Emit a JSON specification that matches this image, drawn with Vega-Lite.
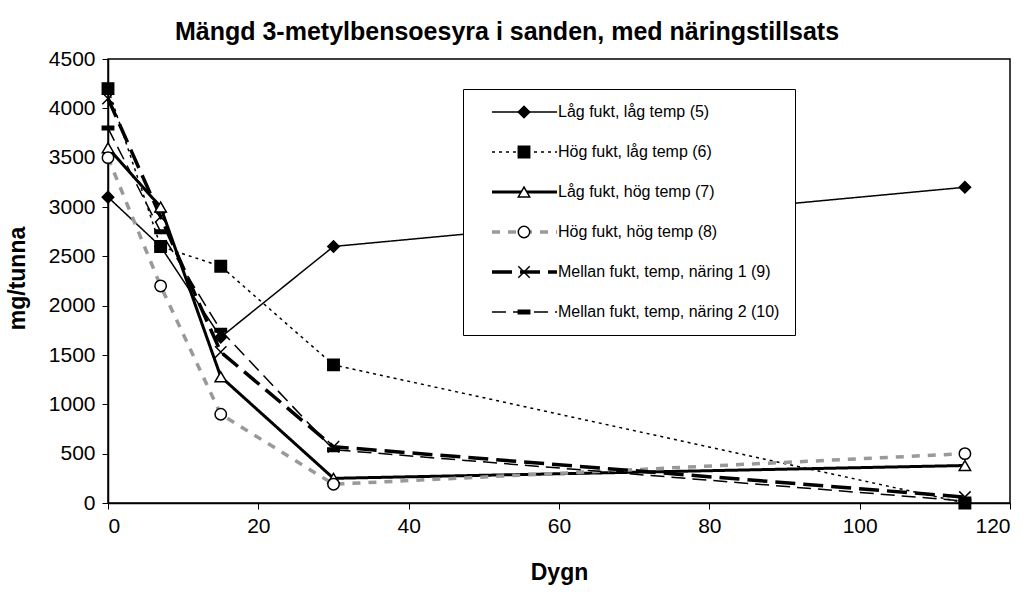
{
  "$schema": "https://vega.github.io/schema/vega-lite/v6.json",
  "autosize": {"type": "none"},
  "padding": {"left": 108, "top": 59, "right": 24, "bottom": 96},
  "width": 902,
  "height": 444,
  "background": "white",
  "title": {
    "text": "Mängd 3-metylbensoesyra i sanden, med näringstillsats",
    "font": "Liberation Sans",
    "fontSize": 25,
    "fontWeight": "bold",
    "color": "black",
    "anchor": "middle",
    "offset": 3,
    "dx": -52
  },
  "config": {
    "view": {"stroke": "black", "strokeWidth": 1.5},
    "axis": {
      "domainColor": "black",
      "domainWidth": 1.5,
      "tickColor": "black",
      "tickWidth": 1,
      "tickSize": 6,
      "labelFont": "Liberation Sans",
      "labelFontSize": 21,
      "labelColor": "black",
      "titleFont": "Liberation Sans",
      "titleFontSize": 23,
      "titleFontWeight": "bold",
      "titleColor": "black",
      "grid": false
    },
    "legend": {
      "labelFont": "Liberation Sans",
      "labelFontSize": 16,
      "labelColor": "black",
      "labelLimit": 400
    }
  },
  "data": {
    "values": [
      {"serie": "Låg fukt, låg temp (5)", "dygn": 0, "mg": 3100},
      {"serie": "Låg fukt, låg temp (5)", "dygn": 7, "mg": 2600},
      {"serie": "Låg fukt, låg temp (5)", "dygn": 15, "mg": 1680},
      {"serie": "Låg fukt, låg temp (5)", "dygn": 30, "mg": 2600},
      {"serie": "Låg fukt, låg temp (5)", "dygn": 114, "mg": 3200},
      {"serie": "Hög fukt, låg temp (6)", "dygn": 0, "mg": 4200},
      {"serie": "Hög fukt, låg temp (6)", "dygn": 7, "mg": 2600},
      {"serie": "Hög fukt, låg temp (6)", "dygn": 15, "mg": 2400},
      {"serie": "Hög fukt, låg temp (6)", "dygn": 30, "mg": 1400},
      {"serie": "Hög fukt, låg temp (6)", "dygn": 114, "mg": 0},
      {"serie": "Låg fukt, hög temp (7)", "dygn": 0, "mg": 3600},
      {"serie": "Låg fukt, hög temp (7)", "dygn": 7, "mg": 3000},
      {"serie": "Låg fukt, hög temp (7)", "dygn": 15, "mg": 1280},
      {"serie": "Låg fukt, hög temp (7)", "dygn": 30, "mg": 250},
      {"serie": "Låg fukt, hög temp (7)", "dygn": 114, "mg": 380},
      {"serie": "Hög fukt, hög temp (8)", "dygn": 0, "mg": 3500},
      {"serie": "Hög fukt, hög temp (8)", "dygn": 7, "mg": 2200},
      {"serie": "Hög fukt, hög temp (8)", "dygn": 15, "mg": 900},
      {"serie": "Hög fukt, hög temp (8)", "dygn": 30, "mg": 190},
      {"serie": "Hög fukt, hög temp (8)", "dygn": 114, "mg": 500},
      {"serie": "Mellan fukt, temp, näring 1 (9)", "dygn": 0, "mg": 4100},
      {"serie": "Mellan fukt, temp, näring 1 (9)", "dygn": 7, "mg": 2900},
      {"serie": "Mellan fukt, temp, näring 1 (9)", "dygn": 15, "mg": 1530},
      {"serie": "Mellan fukt, temp, näring 1 (9)", "dygn": 30, "mg": 570},
      {"serie": "Mellan fukt, temp, näring 1 (9)", "dygn": 114, "mg": 60},
      {"serie": "Mellan fukt, temp, näring 2 (10)", "dygn": 0, "mg": 3800},
      {"serie": "Mellan fukt, temp, näring 2 (10)", "dygn": 7, "mg": 2750},
      {"serie": "Mellan fukt, temp, näring 2 (10)", "dygn": 15, "mg": 1750},
      {"serie": "Mellan fukt, temp, näring 2 (10)", "dygn": 30, "mg": 540},
      {"serie": "Mellan fukt, temp, näring 2 (10)", "dygn": 114, "mg": 20}
    ]
  },
  "encoding": {
    "x": {
      "field": "dygn",
      "type": "quantitative",
      "scale": {"domain": [0, 120], "nice": false},
      "axis": {"title": "Dygn", "format": "d", "values": [0, 20, 40, 60, 80, 100, 120], "labelPadding": 6, "titleY": 58, "titleBaseline": "top"}
    },
    "y": {
      "field": "mg",
      "type": "quantitative",
      "scale": {"domain": [0, 4500], "nice": false},
      "axis": {"title": "mg/tunna", "format": "d", "values": [0, 500, 1000, 1500, 2000, 2500, 3000, 3500, 4000, 4500], "labelPadding": 7, "titleX": -91, "titleY": 219, "titleAngle": -90, "titleAlign": "center", "titleBaseline": "middle"}
    }
  },
  "layer": [
    {
      "mark": {"type": "line"},
      "encoding": {
        "color": {
          "field": "serie",
          "type": "nominal",
          "scale": {
            "domain": ["Låg fukt, låg temp (5)", "Hög fukt, låg temp (6)", "Låg fukt, hög temp (7)", "Hög fukt, hög temp (8)", "Mellan fukt, temp, näring 1 (9)", "Mellan fukt, temp, näring 2 (10)"],
            "range": ["black", "black", "black", "#999999", "black", "black"]
          },
          "legend": {
            "title": null,
            "orient": "none",
            "legendX": 355,
            "legendY": 30,
            "padding": 15,
            "rowPadding": 24,
            "clipHeight": 16,
            "symbolType": "stroke",
            "symbolSize": 4225,
            "symbolOffset": 12,
            "labelOffset": -1,
            "fillColor": "white",
            "strokeColor": "black"
          }
        },
        "strokeDash": {
          "field": "serie",
          "type": "nominal",
          "scale": {
            "domain": ["Låg fukt, låg temp (5)", "Hög fukt, låg temp (6)", "Låg fukt, hög temp (7)", "Hög fukt, hög temp (8)", "Mellan fukt, temp, näring 1 (9)", "Mellan fukt, temp, näring 2 (10)"],
            "range": [[1, 0], [3, 4], [1, 0], [8, 8], [20, 8], [14, 7]]
          }
        },
        "strokeWidth": {
          "field": "serie",
          "type": "nominal",
          "scale": {
            "type": "ordinal",
            "domain": ["Låg fukt, låg temp (5)", "Hög fukt, låg temp (6)", "Låg fukt, hög temp (7)", "Hög fukt, hög temp (8)", "Mellan fukt, temp, näring 1 (9)", "Mellan fukt, temp, näring 2 (10)"],
            "range": [1.5, 1.5, 3, 3.5, 3.5, 1.5]
          }
        }
      }
    },
    {
      "mark": {"type": "point", "size": 130, "opacity": 1},
      "encoding": {
        "strokeWidth": {"value": 1.5},
        "stroke": {
          "field": "serie",
          "type": "nominal",
          "scale": {
            "domain": ["Låg fukt, låg temp (5)", "Hög fukt, låg temp (6)", "Låg fukt, hög temp (7)", "Hög fukt, hög temp (8)", "Mellan fukt, temp, näring 1 (9)", "Mellan fukt, temp, näring 2 (10)"],
            "range": ["black", "black", "black", "black", "black", "black"]
          },
          "legend": {
            "title": null,
            "orient": "none",
            "legendX": 355,
            "legendY": 30,
            "padding": 15,
            "rowPadding": 24,
            "clipHeight": 16,
            "symbolOffset": 38,
            "symbolSize": 130,
            "symbolStrokeWidth": 1.5,
            "labelExpr": "''",
            "labelOffset": 13
          }
        },
        "shape": {
          "field": "serie",
          "type": "nominal",
          "scale": {
            "domain": ["Låg fukt, låg temp (5)", "Hög fukt, låg temp (6)", "Låg fukt, hög temp (7)", "Hög fukt, hög temp (8)", "Mellan fukt, temp, näring 1 (9)", "Mellan fukt, temp, näring 2 (10)"],
            "range": ["diamond", "square", "triangle-up", "circle", "M-1,-1L1,1M-1,1L1,-1", "M-1,-0.3H1V0.3H-1Z"]
          },
          "legend": {
            "title": null,
            "orient": "none",
            "legendX": 355,
            "legendY": 30,
            "padding": 15,
            "rowPadding": 24,
            "clipHeight": 16,
            "symbolOffset": 38,
            "symbolSize": 130,
            "symbolStrokeWidth": 1.5,
            "labelExpr": "''",
            "labelOffset": 13
          }
        },
        "fill": {
          "field": "serie",
          "type": "nominal",
          "scale": {
            "domain": ["Låg fukt, låg temp (5)", "Hög fukt, låg temp (6)", "Låg fukt, hög temp (7)", "Hög fukt, hög temp (8)", "Mellan fukt, temp, näring 1 (9)", "Mellan fukt, temp, näring 2 (10)"],
            "range": ["black", "black", "white", "white", "transparent", "black"]
          },
          "legend": {
            "title": null,
            "orient": "none",
            "legendX": 355,
            "legendY": 30,
            "padding": 15,
            "rowPadding": 24,
            "clipHeight": 16,
            "symbolOffset": 38,
            "symbolSize": 130,
            "symbolStrokeWidth": 1.5,
            "labelExpr": "''",
            "labelOffset": 13
          }
        }
      }
    }
  ],
  "resolve": {"legend": {"shape": "independent", "fill": "independent", "stroke": "independent"}}
}
